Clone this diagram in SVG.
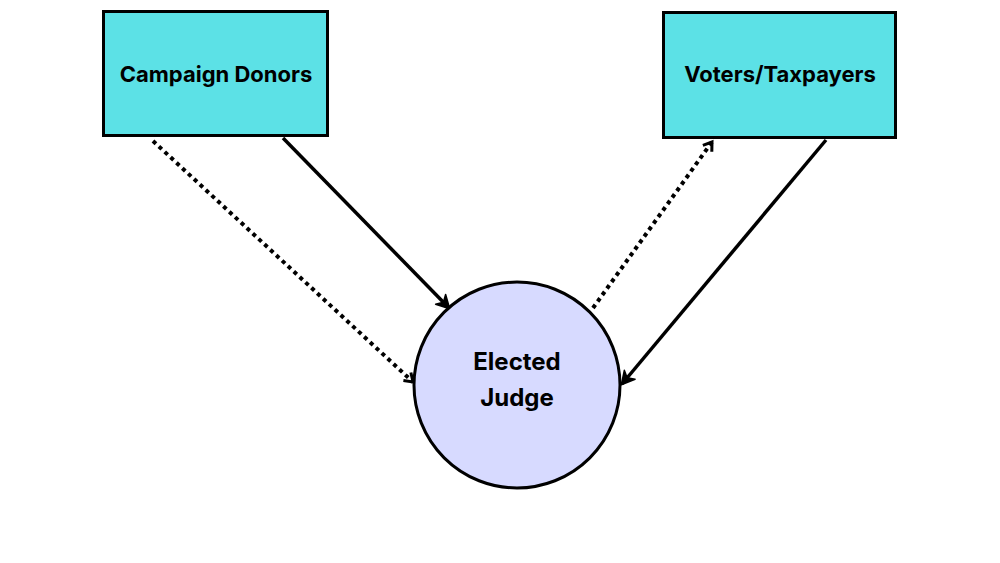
<svg xmlns="http://www.w3.org/2000/svg" width="1000" height="563" viewBox="0 0 1000 563">
<style>
.box{fill:#5ce1e6;stroke:#000;stroke-width:3}
.circ{fill:#d7daff;stroke:#000;stroke-width:3}
.lbl{font-family:Inter,"Open Sans",sans-serif;font-weight:700;font-size:22px;fill:#000;text-anchor:middle}
.big{font-size:24px}
.solid{stroke:#000;stroke-width:3.5;fill:none}
.dot{stroke:#000;stroke-width:4;fill:none;stroke-dasharray:4 4}
</style>
<defs>
<marker id="ah" markerWidth="14" markerHeight="14" refX="10" refY="7" orient="auto" markerUnits="userSpaceOnUse" viewBox="0 0 14 14">
<path d="M2,1.5 L10,7 L2,12.5" fill="none" stroke="#000" stroke-width="3"/>
</marker>
<marker id="ahs" markerWidth="18" markerHeight="18" refX="14" refY="9" orient="auto" markerUnits="userSpaceOnUse" viewBox="0 0 18 18">
<path d="M2,2 L15,9 L2,16 L6,9 Z" fill="#000" stroke="#000" stroke-width="1.5" stroke-linejoin="round"/>
</marker>
</defs>
<rect width="1000" height="563" fill="#fff"/>
<g id="connectors">
<line class="solid" x1="283" y1="138" x2="449" y2="308" marker-end="url(#ahs)"/>
<line class="dot" x1="153" y1="141" x2="413" y2="382" marker-end="url(#ah)"/>
<line class="dot" x1="593" y1="308" x2="712" y2="142" marker-end="url(#ah)"/>
<line class="solid" x1="826" y1="140" x2="622" y2="384" marker-end="url(#ahs)"/>
</g>
<g id="campaign-donors">
<rect class="box" x="103.5" y="11.5" width="224" height="124"/>
<text class="lbl" x="216" y="82">Campaign Donors</text>
</g>
<g id="voters-taxpayers">
<rect class="box" x="663.5" y="12.5" width="232" height="125"/>
<text class="lbl" x="780" y="82">Voters/Taxpayers</text>
</g>
<g id="elected-judge">
<circle class="circ" cx="517" cy="385" r="103"/>
<text class="lbl big" x="517" y="370">Elected</text>
<text class="lbl big" x="517" y="406">Judge</text>
</g>
</svg>
